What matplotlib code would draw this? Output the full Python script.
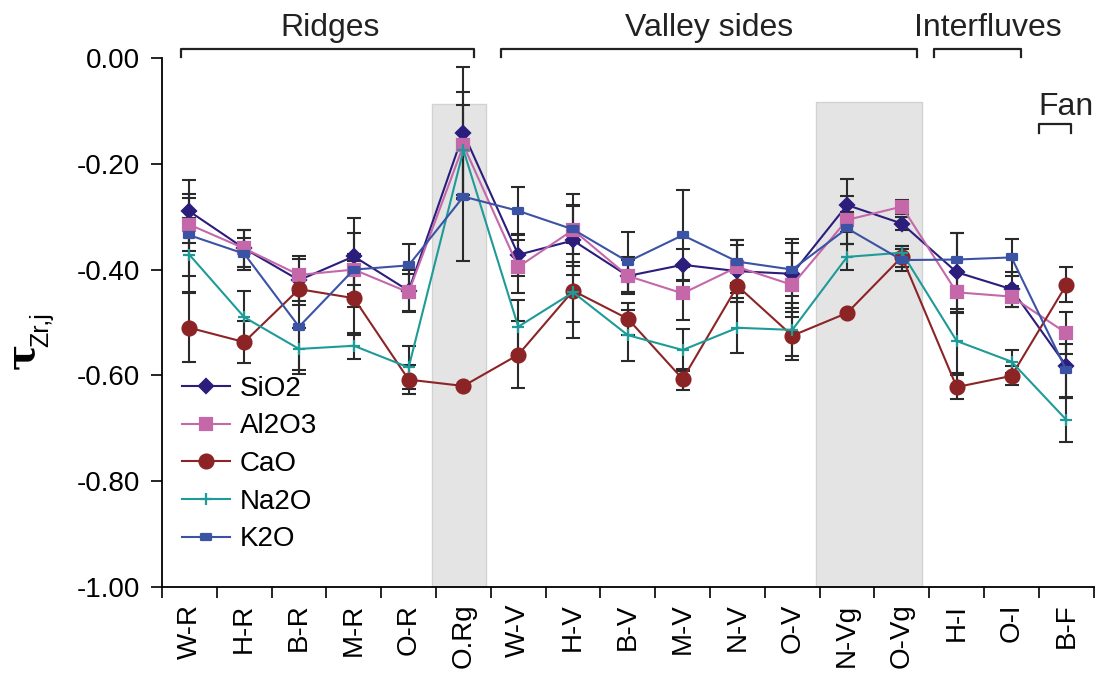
import matplotlib.pyplot as plt
from matplotlib.path import Path
import numpy as np

plt.rcParams['font.family'] = ['Liberation Sans', 'DejaVu Sans']

cats = ['W-R', 'H-R', 'B-R', 'M-R', 'O-R', 'O.Rg', 'W-V', 'H-V', 'B-V', 'M-V',
        'N-V', 'O-V', 'N-Vg', 'O-Vg', 'H-I', 'O-I', 'B-F']

sio2 = [-0.29, -0.36, -0.42, -0.375, -0.44, -0.142, -0.372, -0.345, -0.412, -0.391,
        -0.403, -0.408, -0.278, -0.313, -0.405, -0.437, -0.582]
al2o3 = [-0.315, -0.36, -0.41, -0.40, -0.443, -0.165, -0.395, -0.325, -0.412, -0.445,
         -0.395, -0.429, -0.306, -0.281, -0.443, -0.451, -0.52]
cao = [-0.51, -0.537, -0.437, -0.454, -0.608, -0.62, -0.561, -0.44, -0.493, -0.607,
       -0.431, -0.525, -0.482, -0.376, -0.622, -0.601, -0.429]
na2o = [-0.372, -0.49, -0.55, -0.544, -0.585, -0.174, -0.508, -0.443, -0.524, -0.552,
        -0.51, -0.514, -0.376, -0.368, -0.535, -0.574, -0.684]
k2o = [-0.335, -0.37, -0.508, -0.40, -0.392, -0.262, -0.289, -0.324, -0.385, -0.335,
       -0.385, -0.40, -0.322, -0.382, -0.381, -0.377, -0.59]

#error bars (symmetric)
sio2_err = [0.06, 0.035, 0.04, 0.072, 0.04, 0.125, 0.04, 0.066, 0.03, 0.03,
            0.05, 0.065, 0.05, 0.013, 0.075, 0.033, 0.06]
al2o3_err = [0.05, 0.035, 0.035, 0.07, 0.035, 0.10, 0.05, 0.068, 0.035, 0.05,
             0.05, 0.06, 0.045, 0.013, 0.04, 0.02, 0.04]
cao_err = [0.065, 0.04, 0.03, 0.07, 0.027, 0.0, 0.063, 0.09, 0.03, 0.02,
           0.03, 0.045, 0.0, 0.02, 0.022, 0.018, 0.033]
na2o_err = [0.07, 0.05, 0.04, 0.025, 0.04, 0.085, 0.05, 0.057, 0.048, 0.04,
            0.048, 0.05, 0.025, 0.012, 0.06, 0.022, 0.042]
k2o_err = [0.077, 0.03, 0.09, 0.03, 0.04, 0.122, 0.046, 0.046, 0.057, 0.085,
           0.04, 0.05, 0.03, 0.02, 0.05, 0.035, 0.05]

yticks = [-1.0, -0.8, -0.6, -0.4, -0.2, 0.0]
ytick_labels = ['-1.00', '-0.80', '-0.60', '-0.40', '-0.20', '0.00']

x = np.arange(len(cats))

rect = Path([(-1, -0.6), (1, -0.6), (1, 0.6), (-1, 0.6), (-1, -0.6)],
            [Path.MOVETO, Path.LINETO, Path.LINETO, Path.LINETO, Path.CLOSEPOLY])

series = [
    ('SiO2', sio2, sio2_err, '#2b1d7c', 'D', 7),
    ('Al2O3', al2o3, al2o3_err, '#c468aa', 's', 9),
    ('CaO', cao, cao_err, '#8c2426', 'o', 10),
    ('Na2O', na2o, na2o_err, '#1e9b98', '+', 9),
    ('K2O', k2o, k2o_err, '#3b53a4', rect, 7),
]

fig = plt.figure(figsize=(10.97, 6.79), dpi=100)
ax = fig.add_axes([0.1477, 0.1355, 0.997 - 0.1477, 0.9146 - 0.1355])

#grey boxes
ax.fill_between([4.43, 5.42], -1, -0.087, color='#e4e4e4', edgecolor='#d2d2d2', lw=1, zorder=0)
ax.fill_between([11.44, 13.36], -1, -0.083, color='#e4e4e4', edgecolor='#d2d2d2', lw=1, zorder=0)

for name, vals, err, col, mk, ms in series:
    ax.errorbar(x, vals, yerr=err, fmt='none', ecolor='#2a2a2a', elinewidth=1.5,
                capsize=5, capthick=1.5, zorder=2)
for name, vals, err, col, mk, ms in series:
    ax.plot(x, vals, color=col, marker=mk, markersize=ms, lw=1.5, mew=1.6,
            label=name, zorder=3)

ax.set_xlim(-0.5, 16.5)
ax.set_ylim(-1.0, 0.0)
ax.set_yticks(yticks)
ax.set_yticklabels(ytick_labels)
ax.set_xticks(np.arange(-0.5, 16.6, 1.0))
ax.set_xticklabels([])
ax.set_xticks(x, minor=True)
ax.set_xticklabels(cats, minor=True, rotation=90)
ax.tick_params(axis='x', which='minor', length=0, labelsize=20, pad=12)
ax.tick_params(axis='x', which='major', length=8, width=1.2, direction='out')
ax.tick_params(axis='y', length=8, width=1.2, direction='out', labelsize=20, pad=8)
for s in ['top', 'right']:
    ax.spines[s].set_visible(False)
for s in ['left', 'bottom']:
    ax.spines[s].set_linewidth(1.3)

#y label: bold tau with subscript
fig.text(0.021, 0.476, '\u03c4', rotation=90, fontsize=28, fontweight='bold',
         family='DejaVu Serif', ha='center', va='center')
fig.text(0.038, 0.515, 'Zr,j', rotation=90, fontsize=18, ha='center', va='center')

#group brackets
def bracket(x0, x1, y, h):
    ax.plot([x0, x0, x1, x1], [y - h, y, y, y - h], color='#222222', lw=1.6,
            clip_on=False, zorder=4)

bracket(-0.16, 5.2, 0.017, 0.016)
bracket(5.69, 13.28, 0.017, 0.016)
bracket(13.58, 15.18, 0.017, 0.016)
bracket(15.51, 16.09, -0.125, 0.016)
ax.text(2.57, 0.042, 'Ridges', ha='center', va='baseline', fontsize=23, color='#222222', clip_on=False)
ax.text(9.49, 0.042, 'Valley sides', ha='center', va='baseline', fontsize=23, color='#222222', clip_on=False)
ax.text(14.56, 0.042, 'Interfluves', ha='center', va='baseline', fontsize=23, color='#222222', clip_on=False)
ax.text(16.0, -0.108, 'Fan', ha='center', va='baseline', fontsize=23, color='#222222', clip_on=False)

ax.legend(loc='upper left', bbox_to_anchor=(0.012, 0.415), frameon=False, fontsize=20,
          labelspacing=0.42, handlelength=1.75, handletextpad=0.35, borderaxespad=0,
          borderpad=0.3)

plt.savefig('out.png', dpi=100)
